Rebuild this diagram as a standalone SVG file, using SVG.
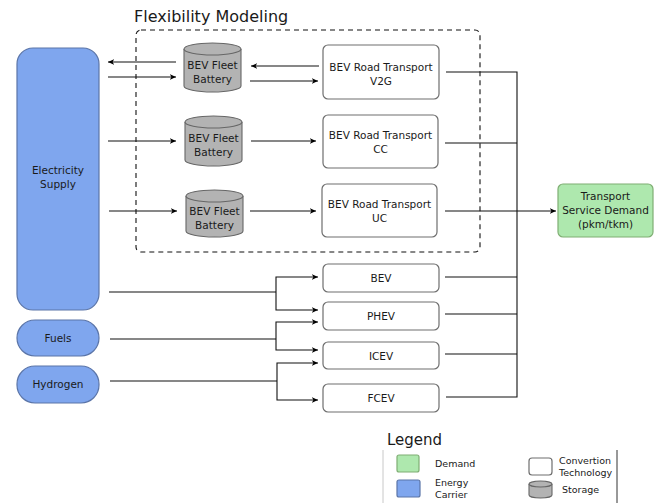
<svg xmlns="http://www.w3.org/2000/svg" width="664" height="503" viewBox="0 0 664 503">
  <defs>
    <marker id="arr" viewBox="0 0 8 8" refX="7" refY="4" markerWidth="7" markerHeight="7" markerUnits="userSpaceOnUse" orient="auto">
      <path d="M0,0.8 L7,4 L0,7.2 L1.8,4 z" fill="#000"/>
    </marker>
    <style>
      text { font-family: "DejaVu Sans", Verdana, sans-serif; font-size: 10.5px; fill: #1a1a1a; text-anchor: middle; }
      .carrier { fill: #7fa6ee; stroke: #5b75a8; stroke-width: 1.2; }
      .demand { fill: #aee8ae; stroke: #7fae73; stroke-width: 1.2; }
      .tech { fill: #fff; stroke: #6e6e6e; stroke-width: 1.2; }
      .store { fill: #b3b3b3; stroke: #666; stroke-width: 1.1; }
      .edge { fill: none; stroke: #111; stroke-width: 1.1; }
      .edge-a { fill: none; stroke: #111; stroke-width: 1.1; marker-end: url(#arr); }
      .frame { fill: none; stroke: #111; stroke-width: 1.1; stroke-dasharray: 5 4; }
      .lg { text-anchor: start; font-size: 9.5px; }
    </style>
  </defs>
  <rect width="664" height="503" fill="#fff"/>

  <!-- flexibility block -->
  <text x="134" y="22" style="font-size:16px;text-anchor:start">Flexibility Modeling</text>
  <rect class="frame" x="136" y="30" width="344" height="222" rx="5"/>

  <!-- energy carriers -->
  <g id="electricity">
    <rect class="carrier" x="17" y="48" width="82" height="262" rx="16"/>
    <text x="58" y="174">Electricity</text>
    <text x="58" y="188">Supply</text>
  </g>
  <g id="fuels">
    <rect class="carrier" x="17" y="320" width="82" height="36" rx="18"/>
    <text x="58" y="342">Fuels</text>
  </g>
  <g id="hydrogen">
    <rect class="carrier" x="17" y="366" width="82" height="37" rx="18"/>
    <text x="58" y="388">Hydrogen</text>
  </g>

  <!-- fleet batteries -->
  <g id="battery-v2g">
    <path class="store" d="M184,49 a28.5,6 0 0 1 57,0 v37 a28.5,6 0 0 1 -57,0 z"/>
    <path class="store" fill="none" d="M184,49 a28.5,6 0 0 0 57,0"/>
    <text x="212.5" y="69">BEV Fleet</text>
    <text x="212.5" y="83">Battery</text>
  </g>
  <g id="battery-cc">
    <path class="store" d="M185,122 a28.5,6 0 0 1 57,0 v38 a28.5,6 0 0 1 -57,0 z"/>
    <path class="store" fill="none" d="M185,122 a28.5,6 0 0 0 57,0"/>
    <text x="213.5" y="142">BEV Fleet</text>
    <text x="213.5" y="156">Battery</text>
  </g>
  <g id="battery-uc">
    <path class="store" d="M186,196 a28.5,6 0 0 1 57,0 v35 a28.5,6 0 0 1 -57,0 z"/>
    <path class="store" fill="none" d="M186,196 a28.5,6 0 0 0 57,0"/>
    <text x="214.5" y="215">BEV Fleet</text>
    <text x="214.5" y="229">Battery</text>
  </g>

  <!-- conversion technologies -->
  <g id="bev-v2g">
    <rect class="tech" x="323" y="45" width="116" height="54" rx="5"/>
    <text x="381" y="71">BEV Road Transport</text>
    <text x="381" y="85">V2G</text>
  </g>
  <g id="bev-cc">
    <rect class="tech" x="323" y="115" width="115" height="53" rx="5"/>
    <text x="380.5" y="139">BEV Road Transport</text>
    <text x="380.5" y="153">CC</text>
  </g>
  <g id="bev-uc">
    <rect class="tech" x="322" y="184" width="115" height="53" rx="5"/>
    <text x="379.5" y="208">BEV Road Transport</text>
    <text x="379.5" y="222">UC</text>
  </g>
  <g id="bev">
    <rect class="tech" x="323" y="264" width="116" height="28" rx="5"/>
    <text x="381" y="282">BEV</text>
  </g>
  <g id="phev">
    <rect class="tech" x="323" y="302" width="116" height="28" rx="5"/>
    <text x="381" y="320">PHEV</text>
  </g>
  <g id="icev">
    <rect class="tech" x="323" y="342" width="116" height="27" rx="5"/>
    <text x="381" y="360">ICEV</text>
  </g>
  <g id="fcev">
    <rect class="tech" x="323" y="384" width="116" height="28" rx="5"/>
    <text x="381" y="402">FCEV</text>
  </g>

  <!-- demand -->
  <g id="demand">
    <rect class="demand" x="558" y="184" width="95" height="53" rx="5"/>
    <text x="605.5" y="200">Transport</text>
    <text x="605.5" y="214">Service Demand</text>
    <text x="605.5" y="228">(pkm/tkm)</text>
  </g>

  <!-- connectors -->
  <g id="connectors">
    <!-- battery exchange with grid -->
    <path class="edge-a" d="M176,62 H108"/>
    <path class="edge-a" d="M108,77 H176"/>
    <path class="edge-a" d="M319,66 H251"/>
    <path class="edge-a" d="M250,81 H318"/>
    <path class="edge-a" d="M108,141 H176"/>
    <path class="edge-a" d="M251,141 H316"/>
    <path class="edge-a" d="M109,211 H177"/>
    <path class="edge-a" d="M250,211 H316"/>

    <!-- carriers to vehicle technologies -->
    <path class="edge" d="M109,292 H276"/>
    <path class="edge-a" d="M276,292 V277 H318"/>
    <path class="edge-a" d="M276,292 V310 H318"/>
    <path class="edge" d="M110,339 H276"/>
    <path class="edge-a" d="M276,339 V322 H318"/>
    <path class="edge-a" d="M276,339 V350 H318"/>
    <path class="edge" d="M110,381 H277"/>
    <path class="edge-a" d="M277,381 V363 H318"/>
    <path class="edge-a" d="M277,381 V400 H318"/>

    <!-- technologies to demand -->
    <path class="edge" d="M446,72 H517 V397 H446"/>
    <path class="edge" d="M445,143 H517"/>
    <path class="edge" d="M445,277 H517"/>
    <path class="edge" d="M445,314 H517"/>
    <path class="edge" d="M445,354 H517"/>
    <path class="edge-a" d="M445,211 H556"/>
  </g>

  <!-- legend -->
  <g id="legend">
    <text x="387" y="445" style="font-size:15px;text-anchor:start">Legend</text>
    <path d="M383,450 V503" stroke="#c8c8c8" stroke-width="1" fill="none"/>
    <path d="M617,450 V503" stroke="#333" stroke-width="1" fill="none"/>
    <rect class="demand" x="397" y="455" width="22" height="17" rx="2"/>
    <text class="lg" x="435" y="467">Demand</text>
    <rect class="carrier" x="397" y="480" width="23" height="17" rx="2"/>
    <text class="lg" x="435" y="486">Energy</text>
    <text class="lg" x="435" y="498">Carrier</text>
    <rect class="tech" x="529" y="458" width="23" height="17" rx="3"/>
    <text class="lg" x="559" y="464">Convertion</text>
    <text class="lg" x="559" y="476">Technology</text>
    <path class="store" d="M529,484 a11.5,3 0 0 1 23,0 v11 a11.5,3 0 0 1 -23,0 z"/>
    <path class="store" fill="none" d="M529,484 a11.5,3 0 0 0 23,0"/>
    <text class="lg" x="562" y="493">Storage</text>
  </g>
</svg>
